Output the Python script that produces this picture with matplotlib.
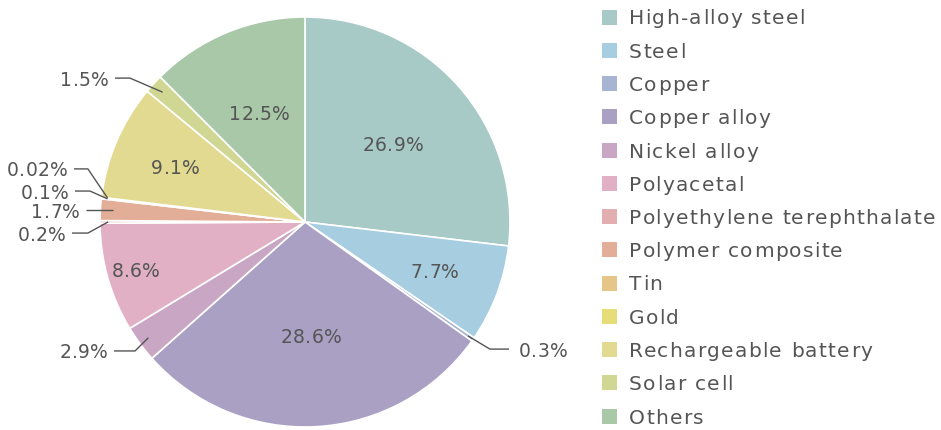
import matplotlib
matplotlib.use("Agg")
import matplotlib.pyplot as plt
import numpy as np
from matplotlib.patches import Rectangle
from matplotlib.font_manager import FontProperties

plt.rcParams['font.family'] = ['DejaVu Sans']

categories = ["High-alloy steel", "Steel", "Copper", "Copper alloy", "Nickel alloy",
              "Polyacetal", "Polyethylene terephthalate", "Polymer composite", "Tin",
              "Gold", "Rechargeable battery", "Solar cell", "Others"]
values = [26.9, 7.7, 0.3, 28.6, 2.9, 8.6, 0.2, 1.7, 0.1, 0.02, 9.1, 1.5, 12.5]
labels = ["26.9%", "7.7%", "0.3%", "28.6%", "2.9%", "8.6%", "0.2%", "1.7%", "0.1%",
          "0.02%", "9.1%", "1.5%", "12.5%"]
colors = ["#a8cac7", "#a7cde0", "#a7b5d3", "#aaa0c4", "#c9a7c4", "#e2b0c4", "#e2aeb0",
          "#e3ae97", "#e6c688", "#e6dc78", "#e2da90", "#cfd793", "#a8c8a8"]

TXT = "#555555"
W, H = 941, 430
fig = plt.figure(figsize=(W / 100, H / 100), dpi=100)
renderer = fig.canvas.get_renderer()

R = 205
cx, cy = 305, 222
ax = fig.add_axes([(cx - R) / W, (H - cy - R) / H, 2 * R / W, 2 * R / H])
wedges, _ = ax.pie(values, colors=colors, startangle=90, counterclock=False,
                   wedgeprops=dict(edgecolor="white", linewidth=1.2))
ax.set_xlim(-1, 1)
ax.set_ylim(-1, 1)
ax.set_aspect("equal")
ax.axis("off")


def mid_angle(i):
    w = wedges[i]
    return np.deg2rad((w.theta1 + w.theta2) / 2)


def _w(s, prop):
    return renderer.get_text_width_height_descent(s, prop, ismath=False)[0]


def spaced_text(xpx, ypx, s, size, spacing, ha="left"):
    """Draw text in figure pixel coords (y from top) with extra letter spacing."""
    prop = FontProperties(family="DejaVu Sans", size=size)
    base = _w("HH", prop)
    arts = []
    for k, ch in enumerate(s):
        if ch == " ":
            continue
        x = _w("H" + s[:k] + "H", prop) - base + k * spacing
        arts.append((x, fig.text(x / W, 1 - ypx / H, ch, ha="left",
                                 va="center_baseline", fontproperties=prop,
                                 color=TXT)))
    bbs = [a.get_window_extent(renderer) for _, a in arts]
    left = min(b.x0 for b in bbs)
    right = max(b.x1 for b in bbs)
    if ha == "left":
        shift = xpx - left
    elif ha == "right":
        shift = xpx - right
    else:
        shift = xpx - (left + right) / 2
    for x, a in arts:
        a.set_x((x + shift) / W)


def data_to_px(x, y):
    return cx + x * R, cy - y * R


LBL_SIZE = 13.5
LBL_SP = 0.4
GAP = 6

# inside labels: index -> radius fraction
inside = {0: 0.575, 1: 0.677, 3: 0.556, 5: 0.859, 10: 0.687, 12: 0.58}
for i, r in inside.items():
    t = mid_angle(i)
    px, py = data_to_px(r * np.cos(t), r * np.sin(t))
    spaced_text(px, py, labels[i], LBL_SIZE, LBL_SP, ha="center")

# outside labels: index -> (start radius, elbow x, elbow y, end x, side)
outside = {
    2: (0.97, 0.902, -0.620, 0.995, "left"),
    4: (0.95, -0.829, -0.629, -0.932, "right"),
    6: (0.96, -1.059, -0.054, -1.137, "right"),
    7: (0.94, -1.068, None, None, "right"),
    8: (0.97, -1.049, 0.151, -1.122, "right"),
    9: (0.97, -1.059, 0.259, -1.127, "right"),
    11: (0.94, -0.854, 0.702, -0.927, "right"),
}
for i, (rs, ex, ey, endx, side) in outside.items():
    t = mid_angle(i)
    sx, sy = rs * np.cos(t), rs * np.sin(t)
    if ey is None:
        xs, ys = [sx, ex], [sy, sy]
        lx, ly = ex, sy
    else:
        xs, ys = [sx, ex, endx], [sy, ey, ey]
        lx, ly = endx, ey
    ax.plot(xs, ys, color=TXT, lw=1.0, clip_on=False, solid_capstyle="butt")
    px, py = data_to_px(lx, ly)
    px = px + (GAP + 4 if side == "left" else -GAP)
    spaced_text(px, py, labels[i], LBL_SIZE, LBL_SP, ha=side)

# legend
for k, (name, col) in enumerate(zip(categories, colors)):
    ypx = 17 + k * 33.25
    fig.add_artist(Rectangle((601.5 / W, 1 - (ypx + 7.5) / H), 15 / W, 15 / H,
                             transform=fig.transFigure, facecolor=col,
                             edgecolor="none"))
    spaced_text(629, ypx, name, 14.5, 1.3)

fig.savefig("out.png", dpi=100)
